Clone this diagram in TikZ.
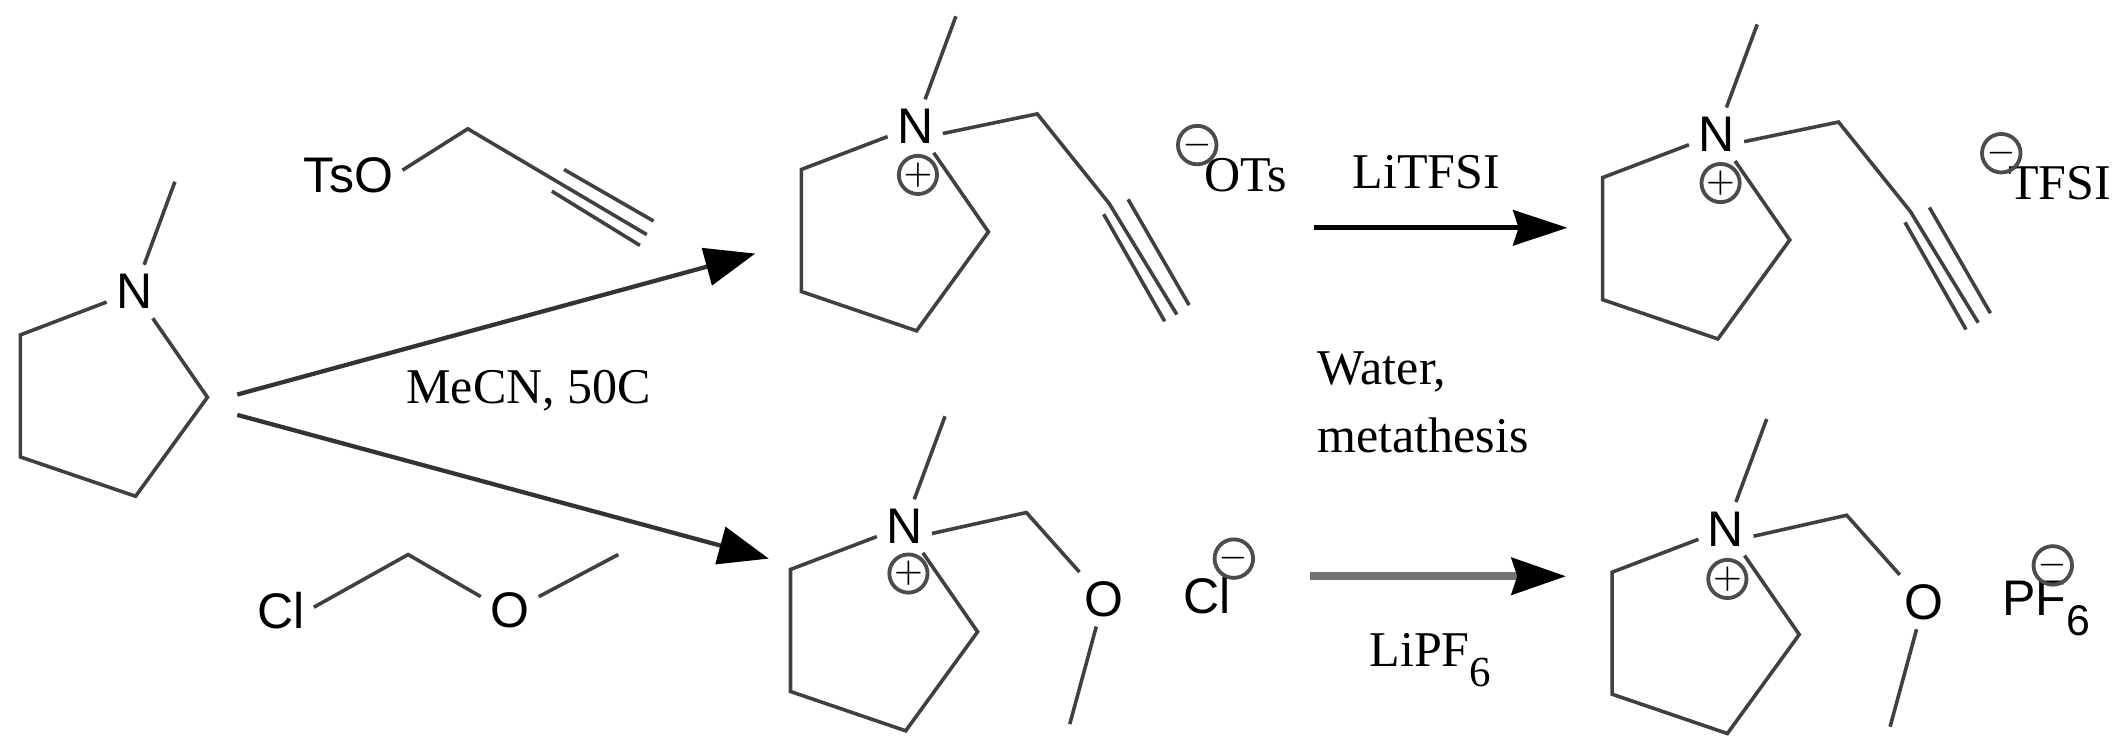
\documentclass[tikz,border=0pt]{standalone}
\usepackage{fontspec}
\setmainfont{Liberation Serif}
\newfontfamily\atomfont{Liberation Sans}
\usetikzlibrary{arrows.meta}

\begin{document}
\begin{tikzpicture}[x=0.1mm, y=-0.1mm]
	\tikzset{
	    atom/.style= {font=\atomfont\fontsize{10.5}{12}\selectfont, inner sep=1.8pt},
	    lbl/.style= {font=\fontsize{10.5}{12}\selectfont, inner sep=0pt},
	    chg/.style= {circle, draw=black!70, line width=0.8pt, minimum size=2.8mm, inner sep=0pt, font=\scriptsize},
	    bond/.style= {black!75, line width=0.75pt, line join=miter},
	    rxn/.style= {black!80, line width=0.9pt, -{Triangle[black, length=3.7mm, width=2.8mm]}},
	}
	\useasboundingbox (0,0) rectangle (1568,551.7);

	% rings
	\foreach \m/\dx/\dy in {s/-576/122, a/0/0, b/591/6, c/-8/295, d/598/297} {
		\begin{scope}[shift={(\dx,\dy)}]
			\node[atom] (\m N) at (675,93) {N};
			\coordinate (\m Me) at (705,12);
			\coordinate (\m r1) at (591,125);
			\coordinate (\m r2) at (591,215);
			\coordinate (\m r3) at (676,244);
			\coordinate (\m r4) at (729,171);
			\draw[bond] (\m N) -- (\m Me);
			\draw[bond] (\m N) -- (\m r1) -- (\m r2) -- (\m r3) -- (\m r4) -- (\m N);
		\end{scope}
	}

	% propargyl chains
	\foreach \m/\dx/\dy in {a/0/0, b/591/6} {
		\begin{scope}[shift={(\dx,\dy)}]
			\coordinate (\m ch) at (765,84);
			\coordinate (\m t1) at (818,150);
			\coordinate (\m t2) at (868,232);
			\coordinate (\m u1) at (832,147);
			\coordinate (\m u2) at (877,225);
			\coordinate (\m v1) at (814,158);
			\coordinate (\m v2) at (859,237);
			\draw[bond] (\m N.-15) -- (\m ch) -- (\m t1) -- (\m t2);
			\draw[bond] (\m u1) -- (\m u2);
			\draw[bond] (\m v1) -- (\m v2);
		\end{scope}
	}

	% methoxymethyl chains
	\foreach \m/\dx/\dy in {c/0/0, d/605/2} {
		\begin{scope}[shift={(\dx,\dy)}]
			\node[atom] (\m O) at (814,442) {O};
			\coordinate (\m ch) at (757,378);
			\coordinate (\m oe) at (789,534);
			\draw[bond] (\m N.-15) -- (\m ch) -- (\m O) -- (\m oe);
		\end{scope}
	}

	\node[chg] (pa) at (677,129) {$+$};
	\node[chg] (pb) at (1269,135) {$+$};
	\node[chg] (pc) at (670,423) {$+$};
	\node[chg] (pd) at (1274,427) {$+$};

	% reagents
	\node[atom] (tso) at (257,129) {TsO};
	\coordinate (tc) at (345,95);
	\coordinate (te) at (477,173);
	\coordinate (tu1) at (416,125);
	\coordinate (tu2) at (482,163);
	\coordinate (tv1) at (407,141);
	\coordinate (tv2) at (472,181);
	\draw[bond] (tso.5) -- (tc) -- (te);
	\draw[bond] (tu1) -- (tu2);
	\draw[bond] (tv1) -- (tv2);

	\node[atom] (cl) at (207,450) {Cl};
	\coordinate (mc) at (301,409);
	\node[atom] (mo) at (376,450) {O};
	\coordinate (me) at (456,409);
	\draw[bond] (cl.5) -- (mc) -- (mo.155);
	\draw[bond] (mo.25) -- (me);

	% counter ions
	\node[lbl] (ots) at (919,129) {OTs};
	\node[chg] (ma) at (883,107) {$-$};
	\node[lbl] (tfsi) at (1519,135) {TFSI};
	\node[chg] (mb) at (1476,113) {$-$};
	\node[atom] (clm) at (890,439) {Cl};
	\node[chg] (mc2) at (910,412) {$-$};
	\node[atom] (pf) at (1509,449) {PF\raisebox{-.4em}{\fontsize{9}{9}\selectfont 6}};
	\node[chg] (md) at (1514,417) {$-$};

	% conditions
	\node[lbl] (mecn) at (390,288) {MeCN, 50C};
	\node[lbl] (litfsi) at (1052,127) {LiTFSI};
	\node[lbl, anchor=west] (water) at (971,274) {Water,};
	\node[lbl, anchor=west] (meta) at (971,321) {metathesis};
	\node[lbl] (lipf) at (1055,487) {LiPF\raisebox{-.4em}{\fontsize{9}{9}\selectfont 6}};

	% arrows
	\coordinate (a1s) at (175,291);
	\coordinate (a1e) at (557,187);
	\coordinate (a2s) at (175,306);
	\coordinate (a2e) at (567,412);
	\coordinate (a3s) at (969,168);
	\coordinate (a3e) at (1156,168);
	\coordinate (a4s) at (966,425);
	\coordinate (a4e) at (1155,425);
	\draw[rxn] (a1s) -- (a1e);
	\draw[rxn] (a2s) -- (a2e);
	\draw[rxn, black, line width=1.1pt, -{Stealth[black, length=4mm, width=2.6mm, inset=0.4mm]}] (a3s) -- (a3e);
	\draw[rxn, black!55, line width=1.6pt, -{Stealth[black, length=4mm, width=2.7mm, inset=0.4mm]}] (a4s) -- (a4e);
\end{tikzpicture}
\end{document}
